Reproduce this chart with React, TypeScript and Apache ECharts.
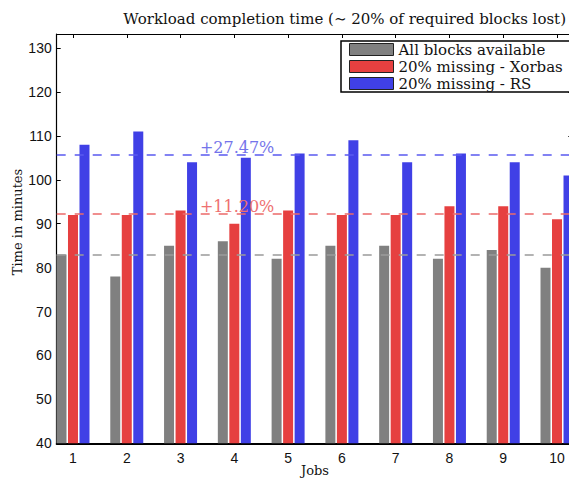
import React, { useEffect, useRef } from 'react';
import * as echarts from 'echarts';

const jobs = [1, 2, 3, 4, 5, 6, 7, 8, 9, 10];
const allBlocks = [83, 78, 85, 86, 82, 85, 85, 82, 84, 80];
const xorbas = [92, 92, 93, 90, 93, 92, 92, 94, 94, 91];
const rsMissing = [108, 111, 104, 105, 106, 109, 104, 106, 104, 101];
const seriesNames = ['All blocks available', '20% missing - Xorbas', '20% missing - RS'];
const titleText = 'Workload completion time (\u223C 20% of required blocks lost)';

const mean = (a: number[]) => a.reduce((s, v) => s + v, 0) / a.length;

export default function App() {
  const ref = useRef<HTMLDivElement>(null);
  useEffect(() => {
    const chart = echarts.init(ref.current!, null, { renderer: 'svg' });
    const base = mean(allBlocks);
    const mX = mean(xorbas);
    const mR = mean(rsMissing);
    const pct = (m: number) => '+' + ((m / base - 1) * 100).toFixed(2) + '%';
    const serif = 'DejaVu Serif';
    const sans = 'Liberation Sans';
    const xMin = 0.697;
    const xMax = 10.303;
    const labelX = 3.36;
    const pairs = (d: number[]) => d.map((v, i) => [jobs[i], v]);
    const mkLine = (m: number, color: string) => ({
      silent: true,
      symbol: 'none',
      z: 10,
      lineStyle: { type: [9, 9], color, width: 1.5 },
      label: { show: false },
      data: [{ yAxis: m }],
    });
    const pointLabel = (m: number, color: string) => ({
      coord: [labelX, m],
      value: m,
      label: {
        show: true,
        position: 'right',
        distance: 0,
        offset: [0, -7],
        formatter: () => pct(m),
        color,
        fontFamily: serif,
        fontSize: 16,
      },
    });
    chart.setOption({
      animation: false,
      title: {
        text: titleText,
        right: -2,
        top: 6,
        textStyle: { fontFamily: serif, fontSize: 15, fontWeight: 'normal', color: '#111' },
      },
      legend: {
        orient: 'vertical',
        left: 341,
        top: 41,
        itemWidth: 44,
        itemHeight: 12,
        itemGap: 2,
        icon: 'rect',
        padding: [1, 33, 1, 8],
        borderColor: '#000',
        borderWidth: 1.5,
        backgroundColor: '#fff',
        itemStyle: { borderColor: '#222', borderWidth: 1 },
        textStyle: { fontFamily: serif, fontSize: 15, color: '#111' },
        data: seriesNames,
      },
      grid: { left: 56.7, right: -4.3, top: 34, bottom: 36.7, outerBoundsMode: 'none', containLabel: false },
      xAxis: [
        {
          type: 'value',
          min: xMin,
          max: xMax,
          position: 'bottom',
          name: 'Jobs',
          nameLocation: 'middle',
          nameGap: 21,
          nameMoveOverlap: false,
          nameTextStyle: { fontFamily: serif, fontSize: 13, color: '#111' },
          splitLine: { show: false },
          axisLine: { show: true, lineStyle: { color: '#000', width: 2 } },
          axisTick: { show: false },
          axisLabel: { customValues: jobs, fontFamily: sans, fontSize: 14, color: '#111', margin: 8 },
        },
        {
          type: 'value',
          min: xMin,
          max: xMax,
          position: 'top',
          splitLine: { show: false },
          axisLine: { show: true, lineStyle: { color: '#000', width: 1.2 } },
          axisTick: { show: true, customValues: jobs, inside: true, length: 4, lineStyle: { color: '#000' } },
          axisLabel: { show: false },
        },
      ],
      yAxis: [
        {
          type: 'value',
          min: 40,
          max: 133.2,
          interval: 10,
          position: 'left',
          splitLine: { show: false },
          axisLine: { show: true, lineStyle: { color: '#000', width: 1.2 } },
          axisTick: { show: true, inside: true, length: 4, lineStyle: { color: '#000' } },
          axisLabel: { showMaxLabel: false, fontFamily: sans, fontSize: 14, color: '#111', margin: 5 },
        },
        {
          type: 'value',
          min: 40,
          max: 133.2,
          interval: 10,
          position: 'right',
          splitLine: { show: false },
          axisLine: { show: true, lineStyle: { color: '#000', width: 1.2 } },
          axisTick: { show: true, inside: true, length: 5, lineStyle: { color: '#000' } },
          axisLabel: { show: false },
        },
      ],
      graphic: [
        {
          type: 'text',
          x: 17,
          y: 222,
          rotation: Math.PI / 2,
          style: {
            text: 'Time in minutes',
            fontFamily: serif,
            fontSize: 13,
            fill: '#111',
            align: 'center',
            verticalAlign: 'middle',
          },
        },
      ],
      series: [
        {
          name: seriesNames[0],
          type: 'bar',
          xAxisIndex: 0,
          yAxisIndex: 0,
          barWidth: 10,
          barGap: '15%',
          itemStyle: { color: '#808080' },
          data: pairs(allBlocks),
          markLine: mkLine(base, '#9a9a9a'),
        },
        {
          name: seriesNames[1],
          type: 'bar',
          xAxisIndex: 0,
          yAxisIndex: 0,
          barWidth: 10,
          barGap: '15%',
          itemStyle: { color: '#e64040' },
          data: pairs(xorbas),
          markLine: mkLine(mX, '#ec6a6a'),
          markPoint: {
            symbol: 'circle',
            symbolSize: 0,
            z: 11,
            data: [pointLabel(mX, '#ee7070'), pointLabel(mR, '#7474ea')],
          },
        },
        {
          name: seriesNames[2],
          type: 'bar',
          xAxisIndex: 0,
          yAxisIndex: 0,
          barWidth: 10,
          barGap: '15%',
          itemStyle: { color: '#4040e6' },
          data: pairs(rsMissing),
          markLine: mkLine(mR, '#5a5af0'),
        },
      ],
    });
    return () => chart.dispose();
  }, []);
  return <div ref={ref} style={{ position: 'absolute', left: 0, top: 0, width: 569, height: 480 }} />;
}
